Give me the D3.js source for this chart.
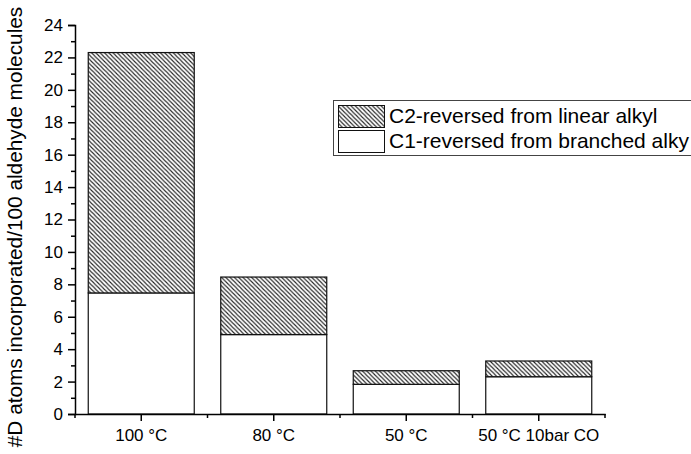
<!DOCTYPE html>
<html>
<head>
<meta charset="utf-8">
<script src="https://cdn.jsdelivr.net/npm/d3@7"></script>
<style>
	body { margin: 0; background: #fff; }
	svg { display: block; font-family: "Liberation Sans", Arial, sans-serif; }
</style>
</head>
<body>
<div id="chart"></div>
<script>

const categories = [ "100 °C", "80 °C", "50 °C", "50 °C 10bar CO" ];
const c1_values = [ 7.47, 4.90, 1.83, 2.30 ];	// C1-reversed from branched alkyl
const c2_values = [ 14.83, 3.55, 0.84, 0.97 ];	// C2-reversed from linear alkyl (stacked on top)
const series_names = [ "C1-reversed from branched alky", "C2-reversed from linear alkyl" ];
const y_major = [ 0, 2, 4, 6, 8, 10, 12, 14, 16, 18, 20, 22, 24 ];
const y_minor = [ 1, 3, 5, 7, 9, 11, 13, 15, 17, 19, 21, 23 ];

///////////////////////////////////////////////////////////////////////

function draw_chart( div_id )	{

	let width = 691, height = 454;

	let svg = d3.select( "#" + div_id )
		.append( "svg" )
			.attr( "width", width )
			.attr( "height", height );

	let defs = svg.append( "defs" );
	let pat = defs.append( "pattern" )
		.attr( "id", "hatch" )
		.attr( "patternUnits", "userSpaceOnUse" )
		.attr( "width", 4.3 )
		.attr( "height", 4.3 );
	pat.append( "rect" )
		.attr( "width", 4.3 ).attr( "height", 4.3 )
		.attr( "fill", "#fff" );
	pat.append( "path" )
		.attr( "d", "M-1,-1 L5.3,5.3 M-1,3.3 L1,5.3 M3.3,-1 L5.3,1" )
		.attr( "stroke", "#222" )
		.attr( "stroke-width", 1.1 );

	let x = d3.scaleBand()
		.domain( categories )
		.range( [ 75, 605 ] )
		.paddingInner( 0.2 )
		.paddingOuter( 0.1 );

	let y = d3.scaleLinear()
		.domain( [ 0, 24 ] )
		.range( [ 414, 25 ] );

	let rows = categories.map( ( c, i ) => ( { cat: c, c1: c1_values[ i ], c2: c2_values[ i ] } ) );
	let stacked = d3.stack().keys( [ "c1", "c2" ] )( rows );
	let fills = { c1: "#fff", c2: "url(#hatch)" };

	svg.append( "g" )
		.selectAll( "g" )
		.data( stacked )
		.join( "g" )
			.attr( "fill", d => fills[ d.key ] )
		.selectAll( "rect" )
		.data( d => d )
		.join( "rect" )
			.attr( "x", d => x( d.data.cat ) )
			.attr( "y", d => y( d[ 1 ] ) )
			.attr( "width", x.bandwidth() )
			.attr( "height", d => y( d[ 0 ] ) - y( d[ 1 ] ) )
			.attr( "stroke", "#111" )
			.attr( "stroke-width", 1.2 );

	// y axis
	svg.append( "g" )
		.attr( "transform", "translate(75,0)" )
		.call( d3.axisLeft( y ).tickValues( y_major ).tickSize( 7 ).tickPadding( 5 ) );
	svg.append( "g" )
		.attr( "transform", "translate(75,0)" )
		.call( d3.axisLeft( y ).tickValues( y_minor ).tickSize( 4 ).tickFormat( "" ) )
		.call( g => g.select( ".domain" ).remove() );

	// x axis: major ticks at category centres, minor at band edges
	let gx = svg.append( "g" )
		.attr( "transform", "translate(0,414)" )
		.call( d3.axisBottom( x ).tickSize( 7 ).tickPadding( 8 ).tickSizeOuter( 0 ) );
	let edges = d3.range( categories.length + 1 ).map( i => x.range()[ 0 ] + i * x.step() );
	gx.selectAll( ".minor" )
		.data( edges )
		.join( "line" )
			.attr( "class", "minor" )
			.attr( "x1", d => d ).attr( "x2", d => d )
			.attr( "y1", 0 ).attr( "y2", 4 )
			.attr( "stroke", "#000" );
	gx.select( ".domain" ).attr( "d", "M75,0.5H" + ( edges[ edges.length - 1 ] + 0.75 ) );

	svg.selectAll( ".domain, .tick line, .minor" )
		.attr( "stroke", "#000" )
		.attr( "stroke-width", 1.5 );
	svg.selectAll( ".tick text" )
		.attr( "font-family", "Liberation Sans, Arial, sans-serif" )
		.attr( "font-size", 17 )
		.attr( "fill", "#000" );

	// y axis title
	svg.append( "text" )
		.attr( "transform", "translate(22,227) rotate(-90)" )
		.attr( "text-anchor", "middle" )
		.attr( "font-size", 20.8 )
		.text( "#D atoms incorporated/100 aldehyde molecules" );

	// legend
	let leg = svg.append( "g" );
	leg.append( "rect" )
		.attr( "x", 333.5 ).attr( "y", 100.5 )
		.attr( "width", 380 ).attr( "height", 55 )
		.attr( "fill", "#fff" )
		.attr( "stroke", "#444" )
		.attr( "stroke-width", 1 );
	let items = [ { key: "c2", name: series_names[ 1 ], y: 105 }, { key: "c1", name: series_names[ 0 ], y: 130 } ];
	leg.selectAll( "rect.sw" )
		.data( items )
		.join( "rect" )
			.attr( "class", "sw" )
			.attr( "x", 338.5 ).attr( "y", d => d.y + 0.5 )
			.attr( "width", 46 ).attr( "height", 22 )
			.attr( "fill", d => fills[ d.key ] )
			.attr( "stroke", "#111" )
			.attr( "stroke-width", 1 );
	leg.selectAll( "text" )
		.data( items )
		.join( "text" )
			.attr( "x", 389 )
			.attr( "y", d => d.y + 17.5 )
			.attr( "font-size", 21 )
			.text( d => d.name );
}

draw_chart( "chart" );

</script>
</body>
</html>
